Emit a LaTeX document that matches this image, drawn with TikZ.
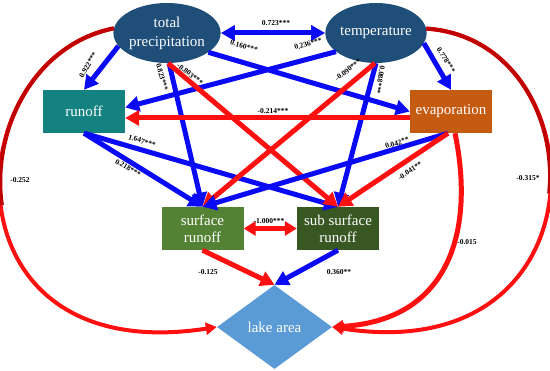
\documentclass[tikz,border=0pt]{standalone}
\usepackage{fontspec}
\setmainfont{Liberation Serif}
\usetikzlibrary{arrows.meta,shapes.geometric,calc}
\definecolor{ellc}{HTML}{1F4E79}
\definecolor{runc}{HTML}{158282}
\definecolor{evac}{HTML}{C55A11}
\definecolor{surc}{HTML}{548235}
\definecolor{subc}{HTML}{385723}
\definecolor{lakc}{HTML}{5B9BD5}
\definecolor{blu}{HTML}{0A0AF5}
\definecolor{rd}{HTML}{FF1010}
\definecolor{drd}{HTML}{C00000}
\begin{document}
\begin{tikzpicture}[x=1pt,y=-1pt,
  lbl/.style={font=\bfseries\fontsize{7.5}{8}\selectfont, inner sep=0.5pt, text=black},
  ell/.style={ellipse, fill=ellc, minimum width=95pt, minimum height=60pt, inner sep=0pt,
    text=white, font=\fontsize{15}{19}\selectfont, align=center},
  box/.style={rectangle, minimum width=82pt, minimum height=43pt, inner sep=0pt,
    text=white, font=\fontsize{15}{17}\selectfont, align=center},
  barr/.style={draw=blu, line width=5pt, -{Triangle[length=14pt,width=15pt]}},
  rarr/.style={draw=rd, line width=5pt, -{Triangle[length=14pt,width=15pt]}},
  carr/.style={draw=rd, line width=4pt, -{Triangle[length=11pt,width=12pt]}},
]
\useasboundingbox (0,0) rectangle (550,371);

% nodes
\node[ell] (tp) at (167,33) {total\\precipitation};
\node[ell] (temp) at (376,33) {temperature};
\node[box, fill=runc] (runoff) at (84,111.5) {runoff};
\node[box, fill=evac] (evap) at (451,111.5) {evaporation};
\node[box, fill=surc] (surf) at (202.5,228.5) {surface\\runoff};
\node[box, fill=subc] (sub) at (338,228.5) {sub surface\\runoff};
\node[diamond, fill=lakc, minimum width=115pt, minimum height=84pt, inner sep=0pt,
  text=white, font=\fontsize{15}{17}\selectfont] (lake) at (274.5,327) {lake area};

% big curves
\draw[carr] (tp.175) .. controls (-45,60) and (-60,370) .. (lake.west);
\draw[draw=drd, line width=4pt, dash pattern=on 230pt off 2000pt] (tp.175) .. controls (-45,60) and (-60,370) .. (lake.west);
\draw[carr] (temp.5) .. controls (600,40) and (610,370) .. (lake.east);
\draw[draw=drd, line width=4pt, dash pattern=on 230pt off 2000pt] (temp.5) .. controls (600,40) and (610,370) .. (lake.east);
\draw[carr, line width=5pt] ($(evap.south)+(4,0)$) .. controls (475,230) and (450,320) .. (lake.east);

% straight arrows
\draw[barr, {Triangle[length=14pt,width=15pt]}-{Triangle[length=14pt,width=15pt]}] (tp.east) -- (temp.west);
\draw[barr] (tp.195) -- (runoff.north);
\draw[barr] (tp.-25) -- (evap.west);
\draw[barr] (temp.205) -- ($(runoff.east)+(0,-4)$);
\draw[barr] (temp.-12) -- (evap.north);
\draw[barr] (runoff.south) -- (surf.north);
\draw[barr] (runoff.south) -- (sub.north);
\draw[barr] (tp.-86) -- (surf.north);
\draw[rarr] (tp.-88) -- (sub.north);
\draw[barr] (temp.-90) -- (sub.north);
\draw[rarr] (temp.-92) -- (surf.north);
\draw[rarr] ($(evap.west)+(0,6.5)$) -- ($(runoff.east)+(0,6.5)$);
\draw[barr] ($(evap.south)+(-3,0)$) -- (surf.north);
\draw[rarr] ($(evap.south)+(-3,0)$) -- (sub.north);
\draw[rarr, {Triangle[length=12pt,width=14pt]}-{Triangle[length=12pt,width=14pt]}] (surf.east) -- (sub.west);
\draw[rarr] (surf.south) -- (lake.north);
\draw[barr] (sub.south) -- (lake.north);

% labels
\node[lbl] (l1) at (276,23) {0.723***};
\node[lbl, rotate=60] (l2) at (88,65) {0.922***};
\node[lbl, rotate=-15] (l3) at (244,46) {0.160***};
\node[lbl, rotate=15] (l4) at (308,44) {0.236***};
\node[lbl, rotate=-58] (l5) at (446,60) {0.778***};
\node[lbl, rotate=-75] (l6) at (162,77) {0.823***};
\node[lbl, rotate=-38] (l7) at (190,74) {-0.803***};
\node[lbl, rotate=38] (l8) at (348,70) {-0.090***};
\node[lbl, rotate=-100] (l9) at (380,80) {0.088***};
\node[lbl] (l10) at (273,111) {-0.214***};
\node[lbl, rotate=-17] (l11) at (142,141) {1.647***};
\node[lbl, rotate=-30] (l12) at (128,168) {0.218***};
\node[lbl, rotate=17] (l13) at (397,143) {0.042**};
\node[lbl, rotate=33] (l14) at (410,171) {-0.041**};
\node[lbl] (l15) at (269,221) {-1.000***};
\node[lbl] (l16) at (208,272) {-0.125};
\node[lbl] (l17) at (339,272) {0.360**};
\node[lbl] (l18) at (467,242) {-0.015};
\node[lbl] (l19) at (20,180) {-0.252};
\node[lbl] (l20) at (528,178) {-0.315*};
\end{tikzpicture}
\end{document}
